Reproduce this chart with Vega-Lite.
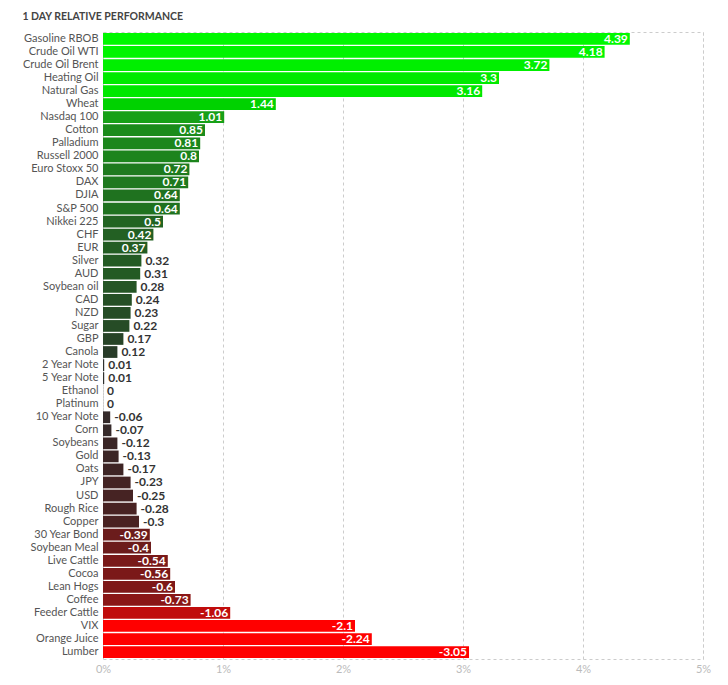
{
  "$schema": "https://vega.github.io/schema/vega-lite/v6.json",
  "autosize": "none",
  "padding": {"left": 103, "top": 32, "right": 25, "bottom": 27},
  "width": 600,
  "height": 627,
  "title": {"text": "1 DAY RELATIVE PERFORMANCE", "anchor": "start", "font": "Lato", "fontSize": 10.5, "fontWeight": "bold", "color": "#444444", "offset": 10},
  "config": {
    "view": {"stroke": "#cccccc", "strokeDash": [3, 3], "strokeWidth": 1},
    "font": "Lato"
  },
  "data": {"values": [
    {"name": "Gasoline RBOB", "value": 4.39, "size": 4.39},
    {"name": "Crude Oil WTI", "value": 4.18, "size": 4.18},
    {"name": "Crude Oil Brent", "value": 3.72, "size": 3.72},
    {"name": "Heating Oil", "value": 3.3, "size": 3.3},
    {"name": "Natural Gas", "value": 3.16, "size": 3.16},
    {"name": "Wheat", "value": 1.44, "size": 1.44},
    {"name": "Nasdaq 100", "value": 1.01, "size": 1.01},
    {"name": "Cotton", "value": 0.85, "size": 0.85},
    {"name": "Palladium", "value": 0.81, "size": 0.81},
    {"name": "Russell 2000", "value": 0.8, "size": 0.8},
    {"name": "Euro Stoxx 50", "value": 0.72, "size": 0.72},
    {"name": "DAX", "value": 0.71, "size": 0.71},
    {"name": "DJIA", "value": 0.64, "size": 0.64},
    {"name": "S&P 500", "value": 0.64, "size": 0.64},
    {"name": "Nikkei 225", "value": 0.5, "size": 0.5},
    {"name": "CHF", "value": 0.42, "size": 0.42},
    {"name": "EUR", "value": 0.37, "size": 0.37},
    {"name": "Silver", "value": 0.32, "size": 0.32},
    {"name": "AUD", "value": 0.31, "size": 0.31},
    {"name": "Soybean oil", "value": 0.28, "size": 0.28},
    {"name": "CAD", "value": 0.24, "size": 0.24},
    {"name": "NZD", "value": 0.23, "size": 0.23},
    {"name": "Sugar", "value": 0.22, "size": 0.22},
    {"name": "GBP", "value": 0.17, "size": 0.17},
    {"name": "Canola", "value": 0.12, "size": 0.12},
    {"name": "2 Year Note", "value": 0.01, "size": 0.01},
    {"name": "5 Year Note", "value": 0.01, "size": 0.01},
    {"name": "Ethanol", "value": 0, "size": 0},
    {"name": "Platinum", "value": 0, "size": 0},
    {"name": "10 Year Note", "value": -0.06, "size": 0.06},
    {"name": "Corn", "value": -0.07, "size": 0.07},
    {"name": "Soybeans", "value": -0.12, "size": 0.12},
    {"name": "Gold", "value": -0.13, "size": 0.13},
    {"name": "Oats", "value": -0.17, "size": 0.17},
    {"name": "JPY", "value": -0.23, "size": 0.23},
    {"name": "USD", "value": -0.25, "size": 0.25},
    {"name": "Rough Rice", "value": -0.28, "size": 0.28},
    {"name": "Copper", "value": -0.3, "size": 0.3},
    {"name": "30 Year Bond", "value": -0.39, "size": 0.39},
    {"name": "Soybean Meal", "value": -0.4, "size": 0.4},
    {"name": "Live Cattle", "value": -0.54, "size": 0.54},
    {"name": "Cocoa", "value": -0.56, "size": 0.56},
    {"name": "Lean Hogs", "value": -0.6, "size": 0.6},
    {"name": "Coffee", "value": -0.73, "size": 0.73},
    {"name": "Feeder Cattle", "value": -1.06, "size": 1.06},
    {"name": "VIX", "value": -2.1, "size": 2.1},
    {"name": "Orange Juice", "value": -2.24, "size": 2.24},
    {"name": "Lumber", "value": -3.05, "size": 3.05}
  ]},
  "encoding": {
    "y": {"field": "name", "type": "nominal", "sort": null,
      "scale": {"paddingInner": 0.1, "paddingOuter": 0.08},
      "axis": {"title": null, "ticks": false, "domain": false, "labelFont": "Lato", "labelFontSize": 11, "labelColor": "#555555", "labelPadding": 5}},
    "x": {"field": "size", "type": "quantitative",
      "scale": {"domain": [0, 5], "nice": false},
      "axis": {"title": null, "values": [0, 1, 2, 3, 4, 5], "labelExpr": "datum.value + '%'", "ticks": false, "domain": false, "labelFlush": false, "labelColor": "#bbbbbb", "labelFontSize": 11, "labelPadding": 4, "grid": true, "gridColor": "#cccccc", "gridDash": [3, 3], "gridWidth": 1}}
  },
  "layer": [
    {"mark": {"type": "bar"},
      "encoding": {"color": {"field": "value", "type": "quantitative", "legend": null,
        "scale": {"type": "linear", "interpolate": "rgb",
          "domain": [-2, -1.06, -0.73, -0.39, -0.3, -0.12, 0, 0.12, 0.31, 0.5, 0.72, 1.01, 1.44, 3],
          "range": ["#ff0000", "#c00c0c", "#8a1616", "#6b1c1c", "#4a2222", "#3a2626", "#303030", "#283c28", "#245a24", "#226422", "#1e7a1e", "#17a017", "#00d200", "#00e600"]}}}},
    {"transform": [{"filter": "datum.size >= 0.35"}],
      "mark": {"type": "text", "align": "right", "baseline": "middle", "dx": -2, "font": "Lato", "fontSize": 12, "fontWeight": "bold", "color": "#ffffff"},
      "encoding": {"text": {"field": "value", "type": "nominal"}}},
    {"transform": [{"filter": "datum.size < 0.35"}],
      "mark": {"type": "text", "align": "left", "baseline": "middle", "dx": 4, "font": "Lato", "fontSize": 12, "fontWeight": "bold", "color": "#333333"},
      "encoding": {"text": {"field": "value", "type": "nominal"}}}
  ]
}
